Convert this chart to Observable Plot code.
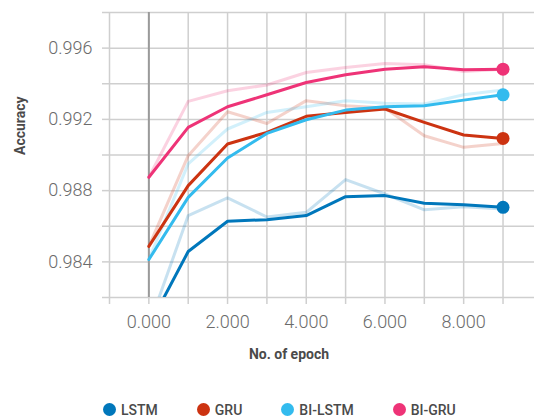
<!DOCTYPE html>
<html>
<head>
<meta charset="utf-8">
<script src="https://cdn.jsdelivr.net/npm/d3@7"></script>
<script src="https://cdn.jsdelivr.net/npm/@observablehq/plot@0.6"></script>
<style>
  body { margin: 0; background: #fff; font-family: Roboto, "Helvetica Neue", Arial, sans-serif; }
  #legend { display: flex; align-items: center; padding: 11px 0 0 103px; height: 17px; }
  .item { display: flex; align-items: center; margin-right: 39px; font-size: 14px; font-weight: 500; color: #4a4a4a; }
  .dot { width: 13px; height: 13px; border-radius: 50%; margin-right: 5px; }
</style>
</head>
<body>
<div id="chart"></div>
<div id="legend"></div>
<script>
// Training accuracy per epoch: smoothed curves and the raw runs behind them
const epochs = [0, 1, 2, 3, 4, 5, 6, 7, 8, 9];
const models = ["LSTM", "GRU", "BI-LSTM", "BI-GRU"];
const colors = ["#0077BB", "#CC3311", "#33BBEE", "#EE3377"];

const lstm      = [0.9804, 0.98458, 0.98628, 0.98637, 0.9866, 0.98766, 0.98772, 0.98729, 0.98721, 0.98706];
const lstmRaw   = [0.9804, 0.9866, 0.98759, 0.98652, 0.98678, 0.98862, 0.98781, 0.98692, 0.9871, 0.98697];
const gru       = [0.98487, 0.98828, 0.99062, 0.99127, 0.99217, 0.99239, 0.99258, 0.99183, 0.99112, 0.99093];
const gruRaw    = [0.98487, 0.98996, 0.99243, 0.99177, 0.99305, 0.99277, 0.99264, 0.99108, 0.99043, 0.99065];
const biLstm    = [0.98413, 0.98762, 0.98983, 0.99121, 0.99198, 0.99252, 0.99271, 0.99277, 0.99308, 0.99338];
const biLstmRaw = [0.98413, 0.9895, 0.99146, 0.99239, 0.99271, 0.99305, 0.9929, 0.99286, 0.99338, 0.99365];
const biGru     = [0.98875, 0.99155, 0.99271, 0.99338, 0.99407, 0.9945, 0.99482, 0.99495, 0.99479, 0.99482];
const biGruRaw  = [0.98875, 0.99301, 0.99361, 0.99393, 0.99463, 0.99491, 0.99514, 0.99507, 0.99469, 0.99482];

const xTicks = d3.range(-1, 10);
const xLabels = [0, 2, 4, 6, 8];
const yTicks = d3.range(0.982, 0.9981, 0.002).map(v => +v.toFixed(3));
const yLabels = [0.984, 0.988, 0.992, 0.996];

const smooth = [lstm, gru, biLstm, biGru];
const raw = [lstmRaw, gruRaw, biLstmRaw, biGruRaw];
const toRows = (series) => series.flatMap((vals, i) =>
  vals.map((v, j) => ({epoch: epochs[j], value: v, model: models[i]})));
const smoothRows = toRows(smooth);
const rawRows = toRows(raw);
const lastRows = smoothRows.filter(d => d.epoch === epochs[epochs.length - 1]);

const font = "Roboto, 'Helvetica Neue', Arial, sans-serif";
const fmt = d3.format(".3f");

const chart = Plot.plot({
  width: 534,
  height: 390,
  marginLeft: 109,
  marginRight: 0,
  marginTop: 12,
  marginBottom: 93,
  style: {fontFamily: font, background: "#fff"},
  x: {domain: [-1, 9.8], label: null},
  y: {domain: [0.982, 0.998], label: null},
  color: {domain: models, range: colors},
  marks: [
    Plot.gridX(xTicks, {stroke: "#cfcfcf", strokeOpacity: 1, strokeWidth: 1.5}),
    Plot.gridY(yTicks, {stroke: "#cfcfcf", strokeOpacity: 1, strokeWidth: 1.5}),
    Plot.ruleX([0], {stroke: "#9a9a9a", strokeWidth: 2}),
    Plot.axisX(xTicks, {
      tickSize: 7, tickPadding: 11, stroke: "#cfcfcf", strokeWidth: 1.5,
      fill: "#6b6b6b", fontSize: 18, fontWeight: 300,
      tickFormat: d => xLabels.includes(d) ? fmt(d) : "", label: null
    }),
    Plot.axisY(yTicks, {
      tickSize: 7, tickPadding: 10, stroke: "#cfcfcf", strokeWidth: 1.5,
      fill: "#6b6b6b", fontSize: 18, fontWeight: 300,
      tickFormat: d => yLabels.some(v => Math.abs(v - d) < 1e-9) ? fmt(d) : "", label: null
    }),
    Plot.line(rawRows, {x: "epoch", y: "value", z: "model", stroke: "model", strokeWidth: 3, strokeOpacity: 0.22, clip: true}),
    Plot.line(smoothRows, {x: "epoch", y: "value", z: "model", stroke: "model", strokeWidth: 3, clip: true}),
    Plot.dot(lastRows, {x: "epoch", y: "value", fill: "model", r: 6.5}),
    Plot.text(["Accuracy"], {frameAnchor: "left", rotate: -90, dx: -89, lineAnchor: "middle",
      fontSize: 14, fontWeight: 700, fill: "#4a4a4a"}),
    Plot.text(["No. of epoch"], {frameAnchor: "bottom", dx: -33, dy: 57, lineAnchor: "middle",
      fontSize: 14, fontWeight: 700, fill: "#4a4a4a"})
  ]
});
document.getElementById("chart").append(chart);

// Legend below the chart
const legend = d3.select("#legend");
models.forEach((m, i) => {
  const item = legend.append("div").attr("class", "item");
  item.append("div").attr("class", "dot").style("background", colors[i]);
  item.append("span").text(m);
});
</script>
</body>
</html>
